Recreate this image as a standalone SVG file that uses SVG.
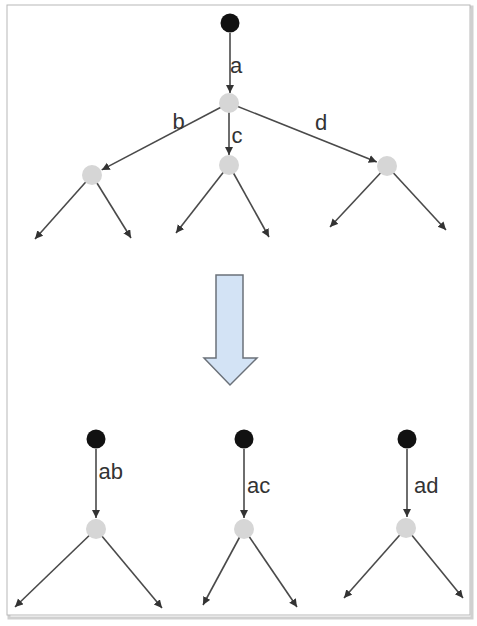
<svg xmlns="http://www.w3.org/2000/svg" width="477" height="626" viewBox="0 0 477 626">
<defs>
<marker id="ah" markerUnits="userSpaceOnUse" markerWidth="10" markerHeight="10" refX="8" refY="4" orient="auto">
<path d="M0,0 L8,4 L0,8 z" fill="#333"/>
</marker>
<style>
.e{stroke:#4a4a4a;stroke-width:1.6;fill:none;marker-end:url(#ah)}
.root{fill:#111}
.mid{fill:#d6d6d6}
.lbl{font-family:"Liberation Sans",Arial,sans-serif;font-size:22px;fill:#333}
</style>
</defs>
<rect width="477" height="626" fill="#fff"/>
<rect x="9" y="7" width="463" height="611" fill="none" stroke="#d0d0d0" stroke-width="3"/>
<rect x="7" y="5" width="463" height="610" fill="#fff" stroke="#b8b8b8" stroke-width="1"/>
<g id="connectors">
<line class="e" x1="230" y1="33" x2="230" y2="93"/>
<line class="e" x1="229" y1="103" x2="101.7" y2="169.9"/>
<line class="e" x1="229" y1="103" x2="229" y2="155"/>
<line class="e" x1="229" y1="103" x2="376.8" y2="161.9"/>
<line class="e" x1="92" y1="175" x2="35" y2="239"/>
<line class="e" x1="92" y1="175" x2="131" y2="238"/>
<line class="e" x1="229" y1="165" x2="176" y2="233"/>
<line class="e" x1="229" y1="165" x2="269" y2="237"/>
<line class="e" x1="387" y1="166" x2="330" y2="227"/>
<line class="e" x1="387" y1="166" x2="446" y2="230"/>
<line class="e" x1="96" y1="449" x2="96" y2="518"/>
<line class="e" x1="96" y1="529" x2="15" y2="607"/>
<line class="e" x1="96" y1="529" x2="162" y2="608"/>
<line class="e" x1="244" y1="449" x2="244" y2="518"/>
<line class="e" x1="244" y1="529" x2="203" y2="605"/>
<line class="e" x1="244" y1="529" x2="297" y2="607"/>
<line class="e" x1="407" y1="449" x2="407" y2="517"/>
<line class="e" x1="406" y1="528" x2="344" y2="598"/>
<line class="e" x1="406" y1="528" x2="463" y2="598"/>
</g>
<g id="edge-labels">
<text class="lbl" x="230" y="73">a</text>
<text class="lbl" x="172.5" y="129">b</text>
<text class="lbl" x="231.5" y="143">c</text>
<text class="lbl" x="315" y="130">d</text>
<text class="lbl" x="98.5" y="479">ab</text>
<text class="lbl" x="247" y="493">ac</text>
<text class="lbl" x="414" y="493">ad</text>
</g>
<g id="top-root"><circle class="root" cx="230" cy="23" r="9.5"/></g>
<g id="top-mid"><circle class="mid" cx="229" cy="103" r="10"/></g>
<g id="top-b"><circle class="mid" cx="92" cy="175" r="10"/></g>
<g id="top-c"><circle class="mid" cx="229" cy="165" r="10"/></g>
<g id="top-d"><circle class="mid" cx="387" cy="166" r="10"/></g>
<g id="big-arrow"><polygon points="216,275 243,275 243,358 257,358 230,385 204,358 216,358" fill="#d3e3f5" stroke="#6b7179" stroke-width="1.5" stroke-linejoin="miter"/></g>
<g id="ab-root"><circle class="root" cx="96" cy="439" r="9.5"/></g>
<g id="ab-mid"><circle class="mid" cx="96" cy="529" r="10"/></g>
<g id="ac-root"><circle class="root" cx="244" cy="439" r="9.5"/></g>
<g id="ac-mid"><circle class="mid" cx="244" cy="529" r="10"/></g>
<g id="ad-root"><circle class="root" cx="407" cy="439" r="9.5"/></g>
<g id="ad-mid"><circle class="mid" cx="406" cy="528" r="10"/></g>
</svg>
